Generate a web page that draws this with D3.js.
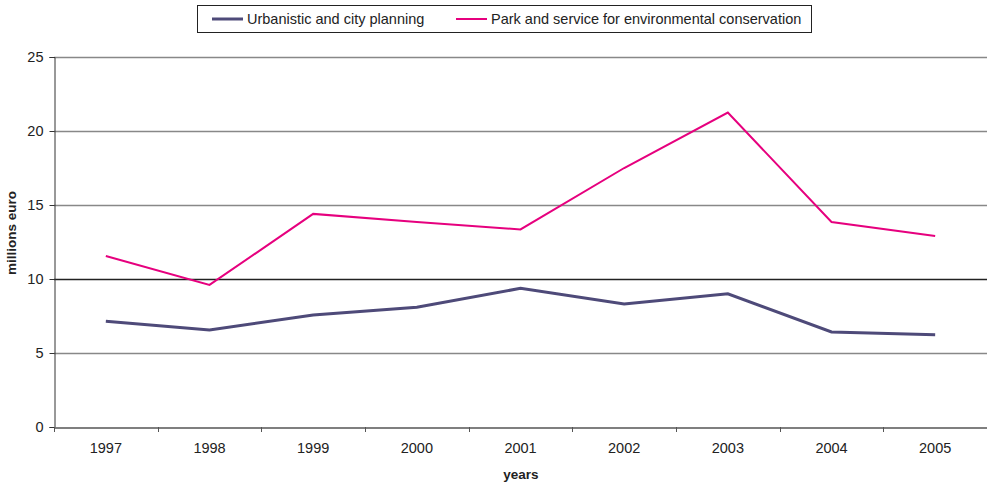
<!DOCTYPE html>
<html>
<head>
<meta charset="utf-8">
<script src="https://cdn.jsdelivr.net/npm/d3@7"></script>
<style>
  body { margin: 0; background: #fff; }
  text { font-family: "Liberation Sans", Arial, sans-serif; }
</style>
</head>
<body>
<div id="chart"></div>
<script>
//data
const years = ["1997", "1998", "1999", "2000", "2001", "2002", "2003", "2004", "2005"];
const urbanistic = [7.15, 6.55, 7.57, 8.09, 9.37, 8.31, 9.0, 6.42, 6.24];
const park = [11.55, 9.6, 14.4, 13.85, 13.35, 17.5, 21.25, 13.85, 12.9];
const yTicks = [0, 5, 10, 15, 20, 25];

//size
const width = 987;
const height = 484;
const margin = { top: 57, right: 0, bottom: 57, left: 54 };

const series = [
  { name: "Urbanistic and city planning", values: urbanistic, color: "#4e4a79", w: 3 },
  { name: "Park and service for environmental conservation", values: park, color: "#e6007e", w: 2 },
];

const svg = d3.select("#chart").append("svg")
  .attr("width", width).attr("height", height);

const x = d3.scaleBand().domain(years).range([margin.left, width - margin.right]);
const y = d3.scaleLinear().domain([0, 25]).range([height - margin.bottom, margin.top]);

//gridlines
svg.append("g").selectAll("line")
  .data(yTicks.filter((d) => d > 0))
  .enter().append("line")
  .attr("x1", margin.left).attr("x2", width - margin.right)
  .attr("y1", (d) => Math.round(y(d)) + 0.5).attr("y2", (d) => Math.round(y(d)) + 0.5)
  .attr("stroke", (d) => (d === 10 ? "#222" : "#888"))
  .attr("stroke-width", 1.3);

//y axis
const yAxis = svg.append("g")
  .attr("transform", `translate(${margin.left + 0.5},0)`)
  .call(d3.axisLeft(y).tickValues(yTicks).tickSize(5).tickPadding(6));
yAxis.select(".domain").attr("stroke", "#333");
yAxis.selectAll(".tick line").attr("stroke", "#333");
yAxis.selectAll("text").attr("font-size", 14.5).attr("fill", "#222")
  .style("font-family", "Liberation Sans, Arial, sans-serif");

//x axis
const xAxis = svg.append("g")
  .attr("transform", `translate(0,${Math.round(y(0)) + 0.5})`)
  .call(d3.axisBottom(x).tickSize(0).tickPadding(15));
xAxis.select(".domain").attr("stroke", "#555").attr("stroke-width", 1.3);
xAxis.selectAll("text").attr("font-size", 14.5).attr("fill", "#222")
  .style("font-family", "Liberation Sans, Arial, sans-serif");

//category boundary ticks
svg.append("g").selectAll("line")
  .data(years)
  .enter().append("line")
  .attr("x1", (d) => Math.round(x(d)) + 0.5).attr("x2", (d) => Math.round(x(d)) + 0.5)
  .attr("y1", y(0)).attr("y2", y(0) + 5)
  .attr("stroke", "#555");

//lines
const line = d3.line()
  .x((d, i) => x(years[i]) + x.bandwidth() / 2)
  .y((d) => y(d));

svg.append("g").selectAll("path")
  .data(series)
  .enter().append("path")
  .attr("fill", "none")
  .attr("stroke", (d) => d.color)
  .attr("stroke-width", (d) => d.w)
  .attr("stroke-linejoin", "miter")
  .attr("d", (d) => line(d.values));

//axis titles
svg.append("text")
  .attr("transform", "translate(16,233) rotate(-90)")
  .attr("text-anchor", "middle")
  .attr("font-size", 13.5).attr("font-weight", "bold").attr("fill", "#222")
  .text("millions euro");

svg.append("text")
  .attr("x", 521).attr("y", 479)
  .attr("text-anchor", "middle")
  .attr("font-size", 13.5).attr("font-weight", "bold").attr("fill", "#222")
  .text("years");

//legend
const legend = svg.append("g");
legend.append("rect")
  .attr("x", 197.5).attr("y", 5.5).attr("width", 614).attr("height", 27)
  .attr("fill", "#fff").attr("stroke", "#222");

const legendX = [212, 456];
const item = legend.selectAll("g.item")
  .data(series)
  .enter().append("g")
  .attr("class", "item")
  .attr("transform", (d, i) => `translate(${legendX[i]},19)`);

item.append("line")
  .attr("x1", 0).attr("x2", 31)
  .attr("stroke", (d) => d.color)
  .attr("stroke-width", (d) => d.w);

item.append("text")
  .attr("x", 35).attr("dy", "0.35em")
  .attr("font-size", 14.5).attr("fill", "#222")
  .text((d) => d.name);
</script>
</body>
</html>
